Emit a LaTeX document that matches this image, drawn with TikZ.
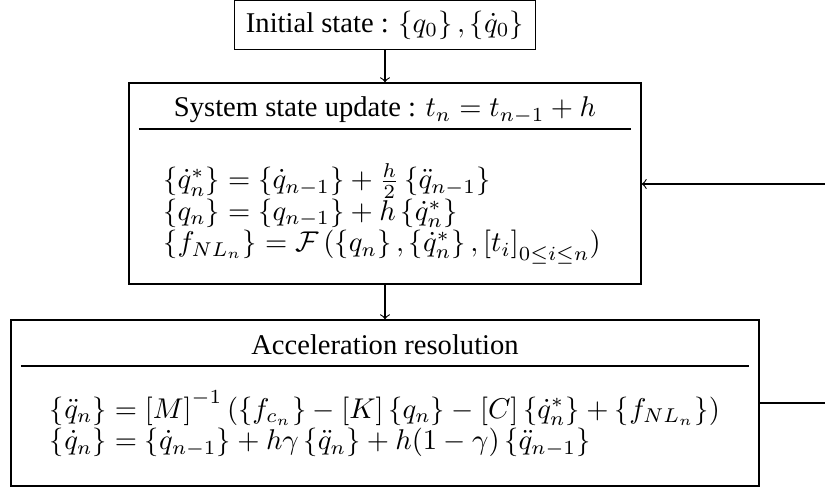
\documentclass[tikz,border=0pt]{standalone}
\usepackage{amsmath}
\usepackage[no-math]{fontspec}
\setmainfont{Liberation Serif}
\usetikzlibrary{positioning}

\newcommand{\cvec}[1]{\left\{#1\right\}}
\newcommand{\sqm}[1]{\left[#1\right]}

\tikzset{
    block/.style={draw, inner sep=0pt},
    eqblock/.style={align=left, inner sep=0pt,
        font={\fontsize{10}{11}\selectfont\lineskiplimit=-\maxdimen}}
}

\begin{document}
\begin{tikzpicture}[x=0.35pt, y=-0.35pt] % Pixelraster, y nach unten

    \useasboundingbox (0,0) rectangle (825,488);

    % Kaesten
    \node[block, minimum width=105.35pt, minimum height=17pt] (init) at (385,25) {Initial state : $\cvec{q_0}, \cvec{\dot{q}_0}$};
    \node[block, minimum width=179.2pt, minimum height=70.35pt] (update) at (385,183.5) {};
    \node[block, minimum width=261.8pt, minimum height=58.1pt] (accel) at (385,403) {};

    % Titel mit Trennlinie
    \node[anchor=base] (updtitle) at (385,117) {System state update : $t_n = t_{n-1} + h$};
    \draw (139,129) -- (631,129);
    \node[anchor=base] (acctitle) at (385,355) {Acceleration resolution};
    \draw (21,366) -- (749,366);

    % Gleichungen
    \node[eqblock] (updeqs) at (382,214) {%
        $\cvec{\dot{q}^*_n} = \cvec{\dot{q}_{n-1}} + \frac{h}{2}\cvec{\ddot{q}_{n-1}}$\\
        $\cvec{q_n} = \cvec{q_{n-1}} + h\cvec{\dot{q}^*_n}$\\
        $\cvec{f_{NL_n}} = \mathcal{F}\,(\cvec{q_n}, \cvec{\dot{q}^*_n}, \sqm{t_i}_{0\leq i\leq n})$};
    \node[eqblock] (acceqs) at (385,424) {%
        $\cvec{\ddot{q}_n} = \sqm{M}^{-1}\left(\cvec{f_{c_n}} - \sqm{K}\cvec{q_n} - \sqm{C}\cvec{\dot{q}^*_n} + \cvec{f_{NL_n}}\right)$\\
        $\cvec{\dot{q}_n} = \cvec{\dot{q}_{n-1}} + h\gamma\cvec{\ddot{q}_n} + h(1-\gamma)\cvec{\ddot{q}_{n-1}}$};

    % Verbindungen
    \coordinate (loopin) at (825,184);
    \coordinate (loopout) at (825,403);
    \draw[->] (init) -- (update);
    \draw[->] (update) -- (accel);
    \draw[->] (loopin) -- (loopin -| update.east);
    \draw (accel.east) -- (loopout);
\end{tikzpicture}
\end{document}
